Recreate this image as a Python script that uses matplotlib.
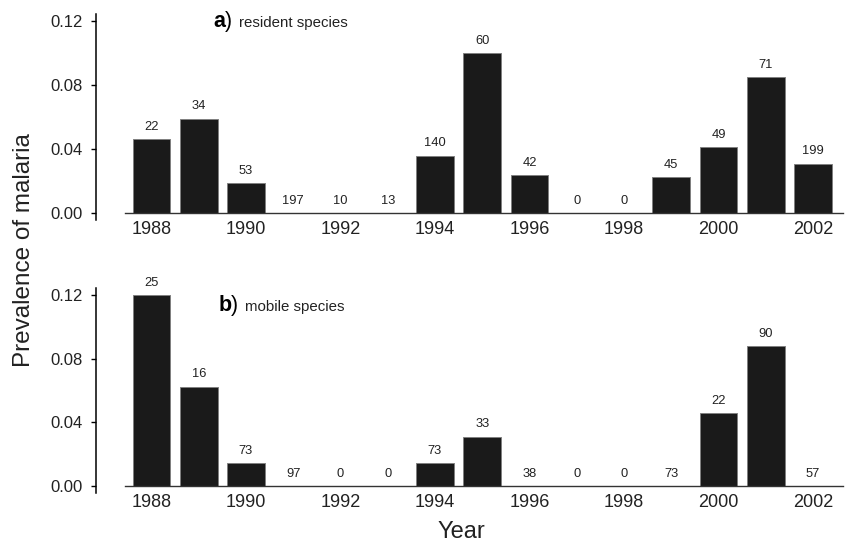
import matplotlib
matplotlib.use("Agg")
import matplotlib.pyplot as plt
import numpy as np

years = np.arange(1988, 2003)
year_labels = [1988, 1990, 1992, 1994, 1996, 1998, 2000, 2002]

# a) resident species
resident_prev = [0.046, 0.059, 0.019, 0.0, 0.0, 0.0, 0.036, 0.100, 0.024,
                 0.0, 0.0, 0.0225, 0.041, 0.085, 0.031]
resident_n = [22, 34, 53, 197, 10, 13, 140, 60, 42, 0, 0, 45, 49, 71, 199]

# b) mobile species
mobile_prev = [0.120, 0.0625, 0.0145, 0.0, 0.0, 0.0, 0.0145, 0.031, 0.0,
               0.0, 0.0, 0.0, 0.0458, 0.088, 0.0]
mobile_n = [25, 16, 73, 97, 0, 0, 73, 33, 38, 0, 0, 73, 22, 90, 57]

yticks = [0.00, 0.04, 0.08, 0.12]

plt.rcParams['font.family'] = ['Liberation Sans', 'DejaVu Sans']

W, H = 851, 543
fig = plt.figure(figsize=(W / 100.0, H / 100.0), dpi=100)

def px_axes(left, right, top, bottom):
  return fig.add_axes([left / W, 1 - bottom / H, (right - left) / W, (bottom - top) / H])

def draw_panel(ax, prev, n, letter, title, title_x, title_y):
  xlo, xhi = 1986.825, 2002.63
  ax.set_xlim(xlo, xhi)
  ax.set_ylim(-0.006, 0.127)
  ax.bar(years, prev, width=0.8, color="#1a1a1a", edgecolor="#808080", linewidth=0.7, zorder=2)
  for x, y, c in zip(years, prev, n):
    ax.annotate(str(c), xy=(x, y), xytext=(0, 8.8), textcoords="offset points",
                ha="center", va="center", fontsize=9.3, color="#222222")
  # baseline
  ax.plot([1987.44, xhi], [0, 0], color="#333333", linewidth=1.0, zorder=3, clip_on=False)
  for s in ["top", "right", "bottom"]:
    ax.spines[s].set_visible(False)
  ax.spines["left"].set_bounds(-0.0044, 0.1244)
  ax.spines["left"].set_linewidth(1.1)
  ax.set_yticks(yticks)
  ax.set_yticklabels(["%.2f" % t for t in yticks], fontsize=12, color="#222222")
  ax.tick_params(axis="y", length=3.6, width=1.0, pad=5.8)
  ax.set_xticks([])
  for yr in year_labels:
    ax.annotate(str(yr), xy=(yr, 0), xytext=(0, -11.9), textcoords="offset points",
                ha="center", va="center", fontsize=13, color="#222222", annotation_clip=False)
  t1 = ax.text(title_x, title_y, letter, fontsize=15.5, fontweight="bold", va="baseline", ha="left")
  t2 = ax.annotate(")", xy=(1, title_y), xycoords=(t1, "data"), va="baseline", ha="left", fontsize=15.5)
  ax.annotate(title, xy=(1, title_y), xycoords=(t2, "data"), xytext=(5, 0),
              textcoords="offset points", va="baseline", ha="left", fontsize=10.8, color="#222222")

# top panel: zero at 213.3 px, 1605 px per unit
z1, s1 = 213.3, 1605.0
ax1 = px_axes(96, 842.7, z1 - 0.127 * s1, z1 + 0.006 * s1)
draw_panel(ax1, resident_prev, resident_n, "a", "resident species", 1989.30, 0.1163)

# bottom panel: zero at 486 px, 1592 px per unit
z2, s2 = 486.0, 1592.0
ax2 = px_axes(96, 842.7, z2 - 0.127 * s2, z2 + 0.006 * s2)
draw_panel(ax2, mobile_prev, mobile_n, "b", "mobile species", 1989.41, 0.1099)

fig.text(24 / W, 1 - 250 / H, "Prevalence of malaria", rotation=90, fontsize=17.5,
         ha="center", va="center", color="#222222")
fig.text(461.7 / W, 1 - 531.7 / H, "Year", fontsize=17, ha="center", va="center", color="#222222")

fig.savefig("out.png", dpi=100)
